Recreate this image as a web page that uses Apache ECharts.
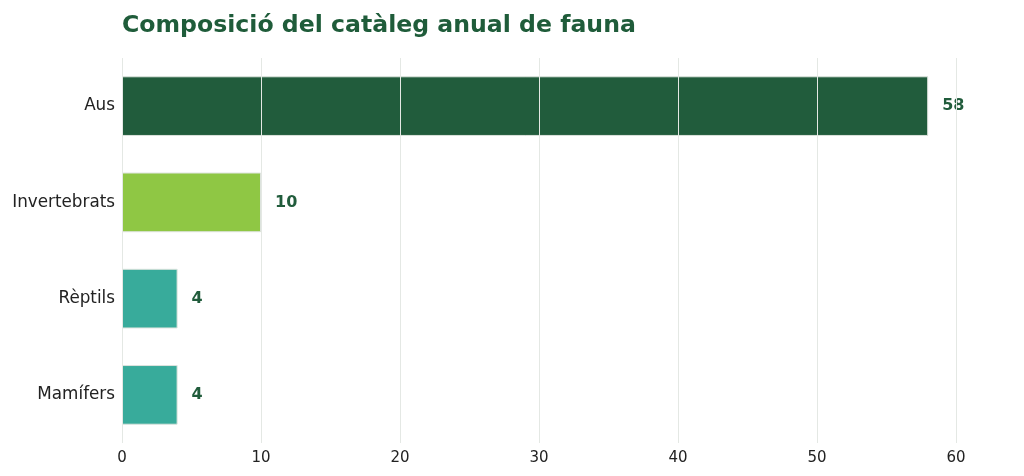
<!DOCTYPE html>
<html>
<head>
<meta charset="utf-8">
<script src="https://cdn.jsdelivr.net/npm/echarts@6/dist/echarts.min.js"></script>
<style>html,body{margin:0;padding:0;background:#fff}#c{width:1024px;height:476px}</style>
</head>
<body>
<div id="c"></div>
<script>
const categories = ['Aus', 'Invertebrats', 'Rèptils', 'Mamífers'];
const values = [58, 10, 4, 4];
const barColors = ['#215c3c', '#8fc744', '#38ab9b', '#38ab9b'];
const titleText = 'Composició del catàleg anual de fauna';

const chart = echarts.init(document.getElementById('c'), null, {renderer: 'canvas'});
chart.setOption({
  animation: false,
  backgroundColor: '#ffffff',
  title: {
    text: titleText,
    left: 117,
    top: 9,
    textStyle: {fontFamily: 'DejaVu Sans', fontSize: 23.6, fontWeight: 'bold', color: '#1f5c3a'}
  },
  grid: {left: 122, right: 68, top: 58, bottom: 33, containLabel: false},
  xAxis: {
    type: 'value',
    min: 0, max: 60, interval: 10,
    z: 5,
    axisLine: {show: false},
    axisTick: {show: false},
    axisLabel: {fontFamily: 'DejaVu Sans', fontSize: 15, color: '#222', margin: 8},
    splitLine: {show: true, lineStyle: {color: '#e4e8e4', width: 1}}
  },
  yAxis: {
    type: 'category',
    data: categories,
    inverse: true,
    axisLine: {show: false},
    axisTick: {show: false},
    axisLabel: {fontFamily: 'DejaVu Sans', fontSize: 16.8, color: '#222', margin: 7}
  },
  series: [{
    type: 'bar',
    data: values.map((v, i) => ({value: v, itemStyle: {color: barColors[i]}})),
    barWidth: '62%',
    itemStyle: {borderColor: '#dde3dd', borderWidth: 1},
    label: {
      show: true, position: 'right', distance: 14,
      fontFamily: 'DejaVu Sans', fontSize: 16, fontWeight: 'bold', color: '#215c3c'
    }
  }]
});
</script>
</body>
</html>
